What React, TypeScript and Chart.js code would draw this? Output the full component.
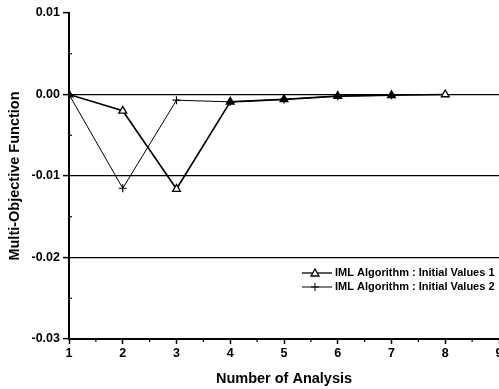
import React, { useEffect, useRef } from "react";
import { Chart, registerables } from "chart.js";

Chart.register(...registerables);

const analysis1 = [1, 2, 3, 4, 5, 6, 7, 8];
const values1 = [0, -0.002, -0.0116, -0.0009, -0.0006, -0.0002, -0.0001, 0];
const analysis2 = [1, 2, 3, 4, 5, 6, 7];
const values2 = [0, -0.0115, -0.0007, -0.0009, -0.0006, -0.0002, -0.0001];
const seriesLabels = [
  "IML Algorithm : Initial Values 1",
  "IML Algorithm : Initial Values 2",
];
const gridValues = [0, -0.01, -0.02];
const yMinorTicks = [0.005, -0.005, -0.015, -0.025];
const xMinorTicks = [1.5, 2.5, 3.5, 4.5, 5.5, 6.5, 7.5, 8.5];

const FONT = "'Liberation Sans', Arial, sans-serif";

const extrasPlugin = {
  id: "extras",
  afterDraw(chart: any) {
    const { ctx, chartArea, scales } = chart;
    const xs = scales.x;
    const ys = scales.y;
    ctx.save();
    ctx.strokeStyle = "#000";
    ctx.lineWidth = 1.2;
    // minor ticks
    yMinorTicks.forEach((v) => {
      const py = ys.getPixelForValue(v);
      ctx.beginPath();
      ctx.moveTo(chartArea.left, py);
      ctx.lineTo(chartArea.left + 3, py);
      ctx.stroke();
    });
    xMinorTicks.forEach((v) => {
      const px = xs.getPixelForValue(v);
      ctx.beginPath();
      ctx.moveTo(px, chartArea.bottom);
      ctx.lineTo(px, chartArea.bottom + 3);
      ctx.stroke();
    });
    // legend
    const lx0 = 302;
    const lx1 = 332;
    const rows = [273, 287];
    ctx.font = "bold 11px " + FONT;
    ctx.fillStyle = "#000";
    ctx.textBaseline = "middle";
    ctx.textAlign = "left";
    rows.forEach((ry, i) => {
      ctx.lineWidth = i === 0 ? 1.3 : 1;
      ctx.beginPath();
      ctx.moveTo(lx0, ry);
      ctx.lineTo(lx1, ry);
      ctx.stroke();
      const cx = (lx0 + lx1) / 2 - 2;
      if (i === 0) {
        ctx.beginPath();
        ctx.moveTo(cx, ry - 4);
        ctx.lineTo(cx + 4, ry + 3);
        ctx.lineTo(cx - 4, ry + 3);
        ctx.closePath();
        ctx.fillStyle = "#fff";
        ctx.fill();
        ctx.lineWidth = 1.3;
        ctx.stroke();
        ctx.fillStyle = "#000";
      } else {
        ctx.beginPath();
        ctx.moveTo(cx, ry - 4);
        ctx.lineTo(cx, ry + 4);
        ctx.moveTo(cx - 4, ry);
        ctx.lineTo(cx + 4, ry);
        ctx.stroke();
      }
      ctx.fillText(seriesLabels[i], 335, ry);
    });
    ctx.restore();
  },
};

export default function App() {
  const ref = useRef<HTMLCanvasElement | null>(null);
  useEffect(() => {
    if (!ref.current) return;
    const pts1 = analysis1.map((x, i) => ({ x, y: values1[i] }));
    const pts2 = analysis2.map((x, i) => ({ x, y: values2[i] }));
    const fill1 = analysis1.map((x, i) =>
      values2[i] !== undefined && values2[i] === values1[i] ? "#000" : "#fff"
    );
    const tickFont = { family: FONT, size: 12.5, weight: "bold" as const };
    const chart = new Chart(ref.current, {
      type: "line",
      data: {
        datasets: [
          {
            label: seriesLabels[0],
            data: pts1,
            borderColor: "#000",
            borderWidth: 1.6,
            pointStyle: "triangle",
            pointRadius: 4.5,
            pointBorderWidth: 1.3,
            pointBorderColor: "#000",
            pointBackgroundColor: fill1,
            order: 0,
          },
          {
            label: seriesLabels[1],
            data: pts2,
            borderColor: "#000",
            borderWidth: 1,
            pointStyle: "cross",
            pointRadius: 4,
            pointBorderWidth: 1.2,
            pointBorderColor: "#000",
            order: 1,
          },
        ],
      },
      options: {
        responsive: false,
        animation: false,
        devicePixelRatio: 1,
        layout: { padding: { left: 0, right: 11, top: 13, bottom: 0 } },
        plugins: {
          legend: { display: false },
          tooltip: { enabled: false },
        },
        scales: {
          x: {
            type: "linear",
            min: 1,
            max: 9,
            ticks: {
              stepSize: 1,
              color: "#000",
              font: tickFont,
              padding: 2,
            },
            grid: {
              drawOnChartArea: false,
              drawTicks: true,
              tickLength: 5,
              tickColor: "#000",
              tickWidth: 1.5,
            },
            border: { display: true, color: "#000", width: 2 },
            title: {
              display: true,
              text: "Number of Analysis",
              color: "#000",
              font: { family: FONT, size: 14.5, weight: "bold" },
              padding: { top: 0, bottom: 1 },
            },
            afterFit(scale: any) {
              scale.height = 50;
            },
          },
          y: {
            type: "linear",
            min: -0.03,
            max: 0.01,
            ticks: {
              stepSize: 0.01,
              color: "#000",
              font: tickFont,
              padding: 3,
              callback: (v: any) => Number(v).toFixed(2),
            },
            grid: {
              color: (c: any) =>
                gridValues.some((g) => Math.abs(c.tick.value - g) < 1e-9)
                  ? "#000"
                  : "rgba(0,0,0,0)",
              lineWidth: 1.2,
              drawTicks: true,
              tickLength: 6,
              tickColor: "#000",
              tickWidth: 1.5,
            },
            border: { display: true, color: "#000", width: 2 },
            title: {
              display: true,
              text: "Multi-Objective Function",
              color: "#000",
              font: { family: FONT, size: 14.5, weight: "bold" },
              padding: { top: 6, bottom: 0 },
            },
            afterFit(scale: any) {
              scale.width = 69;
            },
          },
        },
      },
      plugins: [extrasPlugin],
    });
    return () => chart.destroy();
  }, []);
  return (
    <div style={{ position: "fixed", left: 0, top: 0, width: 510, height: 389 }}>
      <canvas ref={ref} width={510} height={389} style={{ width: 510, height: 389 }} />
    </div>
  );
}
